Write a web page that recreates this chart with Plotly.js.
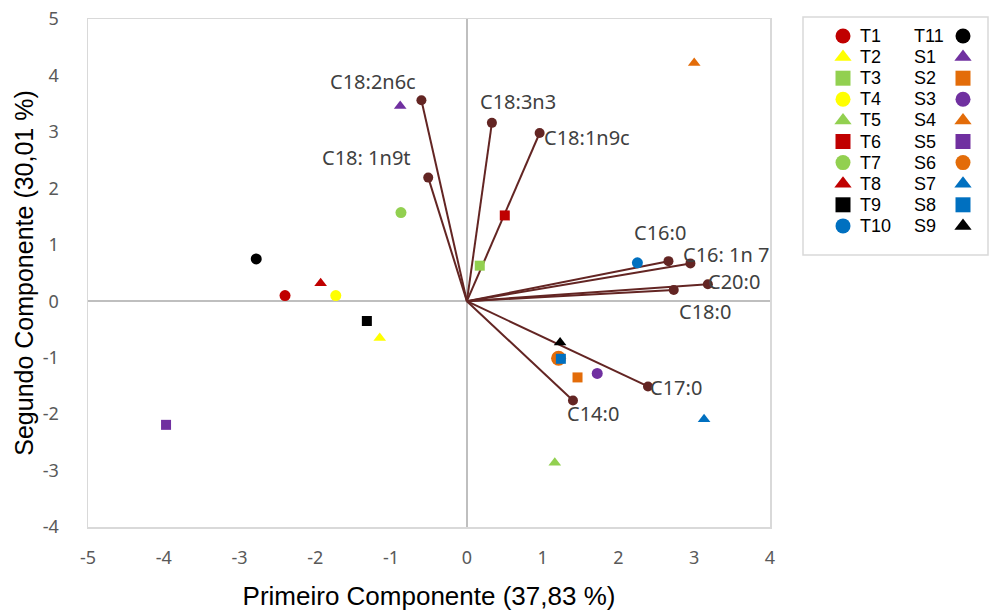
<!DOCTYPE html>
<html>
<head>
<meta charset="utf-8">
<script src="https://cdn.plot.ly/plotly-3.0.1.min.js"></script>
<style>html,body{margin:0;padding:0;background:#fff}#chart{width:990px;height:612px}</style>
</head>
<body>
<div id="chart"></div>
<script>
// ---- Sample scores (PC1, PC2) ----
const sampleNames  = ["T1","T2","T3","T4","T5","T6","T7","T8","T9","T10","T11","S1","S2","S3","S4","S5","S6","S7","S8","S9"];
const sampleX      = [-2.40,-1.15,0.17,-1.73,1.16,0.50,-0.87,-1.93,-1.32,2.25,-2.78,-0.88,1.46,1.72,3.00,-3.97,1.21,3.13,1.24,1.23];
const sampleY      = [0.10,-0.65,0.63,0.10,-2.86,1.52,1.57,0.32,-0.35,0.68,0.75,3.46,-1.35,-1.28,4.22,-2.19,-1.01,-2.09,-1.02,-0.73];
const sampleSymbol = ["circle","triangle-up","square","circle","triangle-up","square","circle","triangle-up","square","circle","circle","triangle-up","square","circle","triangle-up","square","circle","triangle-up","square","triangle-up"];
const sampleColor  = ["#c00000","#ffff00","#92d050","#ffff00","#92d050","#c00000","#92d050","#c00000","#000000","#0070c0","#000000","#7030a0","#e36c09","#7030a0","#e36c09","#7030a0","#e36c09","#0070c0","#0070c0","#000000"];
const sampleSize   = [11,11,10,11,11,10,11,11,10,11,11,11,10,11,11,10,15,11,10,11];

// ---- Loadings (vectors) ----
const loadingNames = ["C18:2n6c","C18: 1n9t","C18:3n3","C18:1n9c","C16:0","C16: 1n 7","C20:0","C18:0","C17:0","C14:0"];
const loadingX     = [-0.60,-0.51,0.33,0.96,2.66,2.95,3.18,2.73,2.39,1.40];
const loadingY     = [3.56,2.19,3.16,2.98,0.71,0.67,0.30,0.20,-1.51,-1.76];
// label offsets in pixels (style, not data)
const labelDX = [-48,-62,26,47,-8,36,26,31,28,20];
const labelDY = [19,20,21,-4,29,9,3,-22,-1,-13];

// ---- Axis ticks ----
const xTicks = [-5,-4,-3,-2,-1,0,1,2,3,4];
const yTicks = [-4,-3,-2,-1,0,1,2,3,4,5];

const vecColor = "#632523";
const traces = [];

// vector lines
const lx = [], ly = [];
loadingX.forEach((v,i)=>{ lx.push(0, v, null); ly.push(0, loadingY[i], null); });
traces.push({type:"scatter", mode:"lines", x:lx, y:ly, line:{color:vecColor, width:2}, hoverinfo:"skip", showlegend:false, xaxis:"x", yaxis:"y"});

// samples
sampleNames.forEach((n,i)=>{
  traces.push({type:"scatter", mode:"markers", name:n, x:[sampleX[i]], y:[sampleY[i]],
    marker:{symbol:sampleSymbol[i], color:sampleColor[i], size:sampleSize[i], line:{width:0}},
    showlegend:false, xaxis:"x", yaxis:"y"});
});

// vector endpoints
traces.push({type:"scatter", mode:"markers", x:loadingX, y:loadingY, text:loadingNames,
  marker:{color:vecColor, size:10}, showlegend:false, xaxis:"x", yaxis:"y"});

// ---- custom legend on auxiliary axes (pixel-like coords) ----
const col1 = sampleNames.slice(0,10).map((n,i)=>({idx:i, row:i, col:0}));
const col2 = sampleNames.slice(10).map((n,i)=>({idx:i+10, row:i, col:1}));
const legendItems = col1.concat(col2);
const rowY = r => 36 + 21.1*r;
const markerX = [843, 963];
const textX = [858, 912];
const legendAnn = [];
legendItems.forEach(it=>{
  const i = it.idx;
  traces.push({type:"scatter", mode:"markers", x:[markerX[it.col]], y:[rowY(it.row)],
    marker:{symbol:sampleSymbol[i], color:sampleColor[i], size:15, line:{width:0}},
    hoverinfo:"skip", showlegend:false, xaxis:"x2", yaxis:"y2"});
  legendAnn.push({xref:"x2", yref:"y2", x:textX[it.col], y:rowY(it.row), text:sampleNames[i],
    showarrow:false, xanchor:"left", yanchor:"middle",
    font:{family:"Liberation Sans, Arial, sans-serif", size:18, color:"#000"}});
});

const loadAnn = loadingNames.map((n,i)=>({x:loadingX[i], y:loadingY[i], xref:"x", yref:"y",
  text:n, showarrow:false, xshift:labelDX[i], yshift:labelDY[i], xanchor:"center", yanchor:"middle",
  font:{family:"Noto Sans, Open Sans, sans-serif", size:20, color:"#404040"}}));

const W = 900; // plotting width in px (990 - 88 - 2)
const H = 508;
const layout = {
  width:990, height:612,
  margin:{l:88, r:2, t:19, b:85},
  paper_bgcolor:"#fff", plot_bgcolor:"#fff",
  showlegend:false,
  xaxis:{domain:[0, 682/W], range:[-5,4], tickvals:xTicks, ticktext:xTicks.map(String),
    showgrid:false, zeroline:true, zerolinecolor:"#bfbfbf", zerolinewidth:1.5,
    showline:true, mirror:true, linecolor:"#d9d9d9", linewidth:1.5, ticks:"",
    ticklabelstandoff:14,
    tickfont:{family:"Noto Sans, sans-serif", size:18, color:"#595959"},
    title:{text:"Primeiro Componente (37,83 %)", standoff:18,
      font:{family:"Liberation Sans, Arial, sans-serif", size:26, color:"#000"}}},
  yaxis:{domain:[0,1], range:[-4,5], tickvals:yTicks, ticktext:yTicks.map(String),
    showgrid:false, zeroline:true, zerolinecolor:"#bfbfbf", zerolinewidth:1.5,
    showline:true, mirror:true, linecolor:"#d9d9d9", linewidth:1.5, ticks:"",
    ticklabelstandoff:24,
    tickfont:{family:"Noto Sans, sans-serif", size:18, color:"#595959"},
    title:{text:"Segundo Componente (30,01 %)", standoff:2,
      font:{family:"Liberation Sans, Arial, sans-serif", size:25, color:"#000"}}},
  xaxis2:{domain:[(803-88)/W, (988-88)/W], range:[803,988], visible:false, fixedrange:true},
  yaxis2:{domain:[(527-255)/H, 1], range:[255,19], visible:false, fixedrange:true},
  shapes:[{type:"rect", xref:"paper", yref:"paper",
    x0:(803-88)/W, x1:(988-88)/W, y0:(527-255)/H, y1:(527-17)/H,
    line:{color:"#d9d9d9", width:1.5}, fillcolor:"rgba(0,0,0,0)"}],
  annotations: loadAnn.concat(legendAnn)
};

Plotly.newPlot("chart", traces, layout, {staticPlot:true, displayModeBar:false});
</script>
</body>
</html>
